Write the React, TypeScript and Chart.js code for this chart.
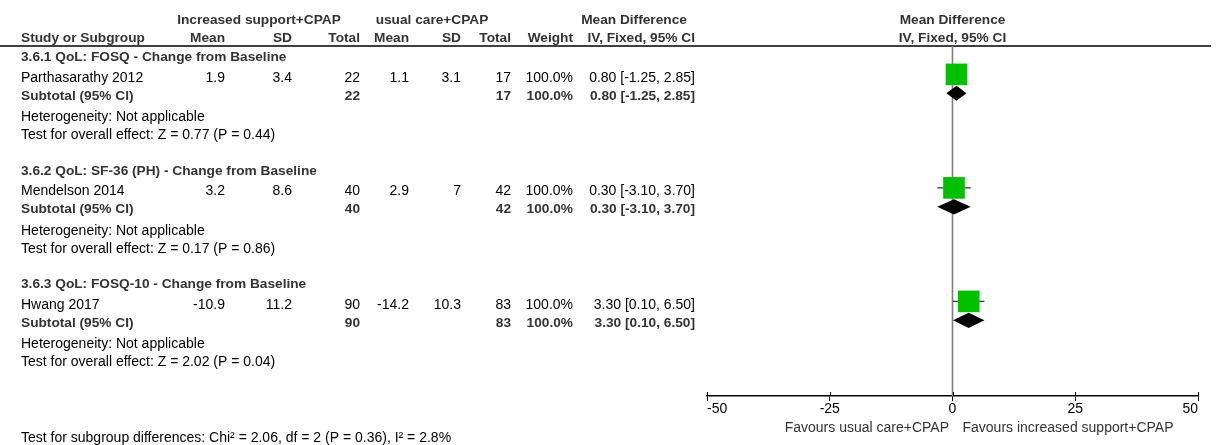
import React, { useEffect, useRef } from 'react';
import { Chart, registerables } from 'chart.js';

Chart.register(...registerables);

// ---------- data ----------
const subgroupTitles = [
  '3.6.1 QoL: FOSQ - Change from Baseline',
  '3.6.2 QoL: SF-36 (PH) - Change from Baseline',
  '3.6.3 QoL: FOSQ-10 - Change from Baseline',
];
const studies = ['Parthasarathy 2012', 'Mendelson 2014', 'Hwang 2017'];
const expMean = [1.9, 3.2, -10.9];
const expSD = [3.4, 8.6, 11.2];
const expTotal = [22, 40, 90];
const ctlMean = [1.1, 2.9, -14.2];
const ctlSD = [3.1, 7, 10.3];
const ctlTotal = [17, 42, 83];
const weights = [100, 100, 100];
const md = [0.8, 0.3, 3.3];
const ciLow = [-1.25, -3.1, 0.1];
const ciHigh = [2.85, 3.7, 6.5];
const heterogeneity = ['Not applicable', 'Not applicable', 'Not applicable'];
const overallZ = [0.77, 0.17, 2.02];
const overallP = [0.44, 0.86, 0.04];
const subgroupTest = 'Test for subgroup differences: Chi\u00B2 = 2.06, df = 2 (P = 0.36), I\u00B2 = 2.8%';
const xTicks = [-50, -25, 0, 25, 50];
const expLabel = 'Increased support+CPAP';
const ctlLabel = 'usual care+CPAP';
const favoursLeft = 'Favours usual care+CPAP';
const favoursRight = 'Favours increased support+CPAP';

// ---------- layout (row units) ----------
const blockRows = 6;
const headingRow = 0.5;
const studyRow = 1.5;
const subtotalRow = 2.5;
const hetRow = 3.65;
const testRow = 4.6;
const subgroupTestRow = 20.6;

const FONT = '"Liberation Sans", Arial, sans-serif';
const BOLD_COLOR = '#333333';

function txt(
  ctx: CanvasRenderingContext2D,
  s: string,
  x: number,
  yc: number,
  align: CanvasTextAlign,
  bold = false,
  color?: string
) {
  const size = bold ? 13.7 : 14;
  ctx.font = `${bold ? 'bold ' : ''}${size}px ${FONT}`;
  ctx.fillStyle = color || (bold ? BOLD_COLOR : '#000000');
  ctx.textAlign = align;
  ctx.textBaseline = 'alphabetic';
  ctx.fillText(s, x, yc + (size * 0.716) / 2);
}

const fmtCI = (i: number) =>
  `${md[i].toFixed(2)} [${ciLow[i].toFixed(2)}, ${ciHigh[i].toFixed(2)}]`;

const forestPlugin = {
  id: 'forest',
  beforeDatasetsDraw(chart: any) {
    const { ctx, chartArea } = chart;
    const x = chart.scales.x;
    const y = chart.scales.y;
    ctx.save();
    // header rule
    ctx.strokeStyle = '#000';
    ctx.lineWidth = 1.5;
    ctx.beginPath();
    ctx.moveTo(0, chartArea.top);
    ctx.lineTo(1211, chartArea.top);
    ctx.stroke();
    // zero line
    const x0 = x.getPixelForValue(0);
    ctx.strokeStyle = '#7f7f7f';
    ctx.lineWidth = 1.6;
    ctx.beginPath();
    ctx.moveTo(x0, chartArea.top);
    ctx.lineTo(x0, chartArea.bottom);
    ctx.stroke();
    // whiskers
    ctx.strokeStyle = '#333';
    ctx.lineWidth = 1.3;
    studies.forEach((_, i) => {
      const py = y.getPixelForValue(i * blockRows + studyRow);
      ctx.beginPath();
      ctx.moveTo(x.getPixelForValue(ciLow[i]), py);
      ctx.lineTo(x.getPixelForValue(ciHigh[i]), py);
      ctx.stroke();
    });
    // upper halves of axis ticks
    ctx.strokeStyle = '#000';
    ctx.lineWidth = 1;
    xTicks.forEach((v) => {
      const px = Math.round(x.getPixelForValue(v)) + 0.5;
      ctx.beginPath();
      ctx.moveTo(px, chartArea.bottom - 4);
      ctx.lineTo(px, chartArea.bottom);
      ctx.stroke();
    });
    ctx.restore();
  },
  afterDatasetsDraw(chart: any) {
    const { ctx } = chart;
    const x = chart.scales.x;
    const y = chart.scales.y;
    ctx.save();
    ctx.fillStyle = '#000';
    studies.forEach((_, i) => {
      const r = i * blockRows + subtotalRow;
      const cy = y.getPixelForValue(r);
      const top = y.getPixelForValue(r - 0.4);
      const bot = y.getPixelForValue(r + 0.4);
      ctx.beginPath();
      ctx.moveTo(x.getPixelForValue(ciLow[i]), cy);
      ctx.lineTo(x.getPixelForValue(md[i]), top);
      ctx.lineTo(x.getPixelForValue(ciHigh[i]), cy);
      ctx.lineTo(x.getPixelForValue(md[i]), bot);
      ctx.closePath();
      ctx.fill();
    });
    ctx.restore();
  },
  afterDraw(chart: any) {
    const { ctx, chartArea } = chart;
    const x = chart.scales.x;
    const y = chart.scales.y;
    const x0 = x.getPixelForValue(0);
    const Y = (r: number) => y.getPixelForValue(r) + 1;
    ctx.save();
    // header row 1
    txt(ctx, expLabel, 259, Y(-1.5), 'center', true);
    txt(ctx, ctlLabel, 432, Y(-1.5), 'center', true);
    txt(ctx, 'Mean Difference', 634, Y(-1.5), 'center', true);
    txt(ctx, 'Mean Difference', x0, Y(-1.5), 'center', true);
    // header row 2
    const h2 = Y(-0.5);
    txt(ctx, 'Study or Subgroup', 21, h2, 'left', true);
    txt(ctx, 'Mean', 225, h2, 'right', true);
    txt(ctx, 'SD', 292, h2, 'right', true);
    txt(ctx, 'Total', 360, h2, 'right', true);
    txt(ctx, 'Mean', 409, h2, 'right', true);
    txt(ctx, 'SD', 461, h2, 'right', true);
    txt(ctx, 'Total', 511, h2, 'right', true);
    txt(ctx, 'Weight', 573, h2, 'right', true);
    txt(ctx, 'IV, Fixed, 95% CI', 695, h2, 'right', true);
    txt(ctx, 'IV, Fixed, 95% CI', x0, h2, 'center', true);

    studies.forEach((name, i) => {
      const base = i * blockRows;
      txt(ctx, subgroupTitles[i], 21, Y(base + headingRow), 'left', true);
      const sy = Y(base + studyRow) + 1.5;
      txt(ctx, name, 21, sy, 'left');
      txt(ctx, String(expMean[i]), 225, sy, 'right');
      txt(ctx, String(expSD[i]), 292, sy, 'right');
      txt(ctx, String(expTotal[i]), 360, sy, 'right');
      txt(ctx, String(ctlMean[i]), 409, sy, 'right');
      txt(ctx, String(ctlSD[i]), 461, sy, 'right');
      txt(ctx, String(ctlTotal[i]), 511, sy, 'right');
      txt(ctx, `${weights[i].toFixed(1)}%`, 573, sy, 'right');
      txt(ctx, fmtCI(i), 695, sy, 'right');
      const ty = Y(base + subtotalRow) + 0.5;
      txt(ctx, 'Subtotal (95% CI)', 21, ty, 'left', true);
      txt(ctx, String(expTotal[i]), 360, ty, 'right', true);
      txt(ctx, String(ctlTotal[i]), 511, ty, 'right', true);
      txt(ctx, `${weights[i].toFixed(1)}%`, 573, ty, 'right', true);
      txt(ctx, fmtCI(i), 695, ty, 'right', true);
      txt(ctx, `Heterogeneity: ${heterogeneity[i]}`, 21, Y(base + hetRow), 'left');
      txt(
        ctx,
        `Test for overall effect: Z = ${overallZ[i].toFixed(2)} (P = ${overallP[i].toFixed(2)})`,
        21,
        Y(base + testRow),
        'left'
      );
    });
    txt(ctx, subgroupTest, 21, Y(subgroupTestRow), 'left');

    // favours labels
    const fy = chartArea.bottom + 30.6;
    txt(ctx, favoursLeft, x0 - 3.5, fy, 'right', false, '#333');
    txt(ctx, favoursRight, x0 + 10, fy, 'left', false, '#333');
    ctx.restore();
  },
};

export default function App() {
  const ref = useRef<HTMLCanvasElement>(null);
  useEffect(() => {
    document.body.style.margin = '0';
    const canvas = ref.current;
    if (!canvas) return;
    const chart = new Chart(canvas, {
      type: 'scatter',
      data: {
        datasets: [
          {
            data: studies.map((_, i) => ({ x: md[i], y: i * blockRows + studyRow })),
            pointStyle: 'rect',
            pointRadius: 15.3,
            pointHoverRadius: 15.3,
            backgroundColor: '#00C000',
            borderWidth: 0,
          },
        ],
      },
      options: {
        animation: false,
        responsive: false,
        maintainAspectRatio: false,
        events: [],
        layout: { padding: { left: 707, right: 18, top: 46, bottom: 24 } },
        plugins: { legend: { display: false }, tooltip: { enabled: false } },
        scales: {
          x: {
            type: 'linear',
            min: -50,
            max: 50,
            position: 'bottom',
            afterBuildTicks: (s: any) => {
              s.ticks = xTicks.map((v) => ({ value: v }));
            },
            afterFit: (s: any) => {
              s.height = 25;
            },
            border: { display: true, color: '#000', width: 1.5 },
            grid: {
              display: true,
              drawOnChartArea: false,
              drawTicks: true,
              tickLength: 5,
              color: '#000',
              lineWidth: 1,
            },
            ticks: {
              align: 'inner',
              font: { family: FONT, size: 14 },
              color: '#000',
              padding: 0,
              maxRotation: 0,
              autoSkip: false,
            },
          },
          y: { type: 'linear', display: false, min: 0, max: 18.5, reverse: true },
        },
      } as any,
      plugins: [forestPlugin],
    });
    return () => chart.destroy();
  }, []);
  return (
    <div style={{ position: 'absolute', left: 0, top: 0, width: 1216, height: 445 }}>
      <canvas ref={ref} width={1216} height={445} style={{ width: 1216, height: 445, display: 'block' }} />
    </div>
  );
}
